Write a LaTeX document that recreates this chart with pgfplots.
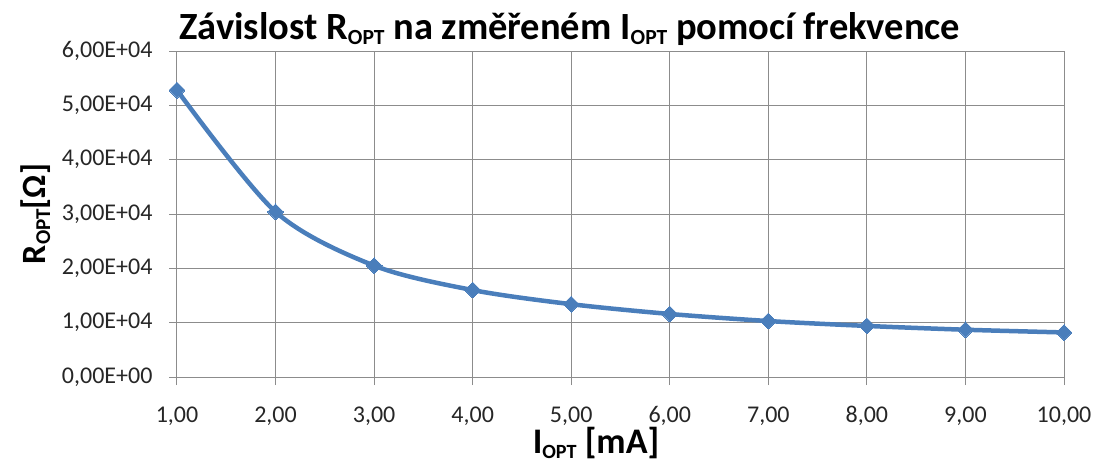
\documentclass[border=0pt]{standalone}
\usepackage{fontspec}
\setmainfont{Carlito}
\usepackage{graphicx}
\usepackage{pgfplots}
\pgfplotsset{compat=1.18}
\definecolor{exblue}{HTML}{4A7EBB}
\newcommand\sub[1]{\raisebox{-0.15em}{\scalebox{0.56}{#1}}}
\newcommand\suby[1]{\raisebox{-0.15em}{\scalebox{0.62}{#1}}}
\begin{document}
\begin{tikzpicture}[x=1pt,y=1pt]
\path[use as bounding box] (0,0) rectangle (1101,464);
\begin{axis}[
  at={(177pt,87pt)}, anchor=south west,
  scale only axis, width=887pt, height=326pt,
  xmin=1, xmax=10, ymin=0, ymax=60000,
  xtick={1,2,3,4,5,6,7,8,9,10},
  ytick={0,10000,20000,30000,40000,50000,60000},
  xticklabels={{1,00},{2,00},{3,00},{4,00},{5,00},{6,00},{7,00},{8,00},{9,00},{10,00}},
  yticklabels={{0,00E+00},{1,00E+04},{2,00E+04},{3,00E+04},{4,00E+04},{5,00E+04},{6,00E+04}},
  scaled y ticks=false,
  grid=major, grid style={black!45, line width=1pt},
  axis line style={black!45, line width=1pt},
  xtick pos=bottom, ytick pos=left,
  tick align=outside, major tick length=8pt,
  tick style={black!45, line width=1pt},
  tick label style={font=\fontsize{24}{26}\selectfont, text=black!85},
  xticklabel style={yshift=-18pt},
  yticklabel style={xshift=-13pt},
  title={\bfseries Závislost R\sub{OPT} na změřeném I\sub{OPT} pomocí frekvence},
  title style={at={(0.443,1)}, anchor=base, yshift=6pt, font=\fontsize{38.5}{42}\selectfont},
  xlabel={\bfseries I\sub{OPT} [mA]},
  xlabel style={at={(axis description cs:0.4724,0)}, anchor=base, yshift=-76pt, font=\fontsize{36}{40}\selectfont},
  ylabel={\bfseries R\suby{OPT}[Ω]},
  ylabel style={at={(axis description cs:-0.1488,0.5)}, anchor=base, font=\fontsize{34}{38}\selectfont},
]
\addplot[exblue, line width=4.5pt, smooth, mark=square*, mark size=5.6pt, mark options={fill=exblue, draw=exblue, line width=0pt, rotate=45}]
  coordinates {(1,52800) (2,30400) (3,20500) (4,16000) (5,13400) (6,11600) (7,10300) (8,9400) (9,8700) (10,8200)};
\end{axis}
\end{tikzpicture}
\end{document}
